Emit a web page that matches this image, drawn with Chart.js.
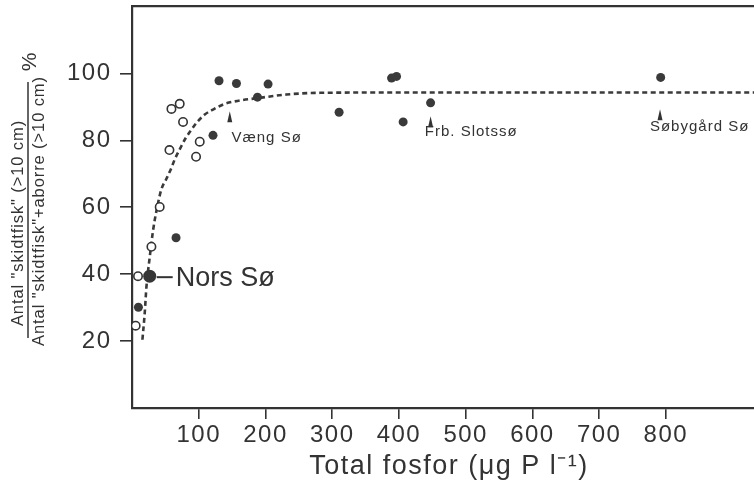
<!DOCTYPE html>
<html>
<head>
<meta charset="utf-8">
<script src="https://cdn.jsdelivr.net/npm/chart.js@4.4.1/dist/chart.umd.min.js"></script>
<style>
  html, body { margin: 0; padding: 0; background: #fff; overflow: hidden; }
  #wrap { width: 754px; height: 485px; overflow: hidden; }
</style>
</head>
<body>
<div id="wrap"><canvas id="fosfor" width="780" height="485"></canvas></div>
<script>
// andel skidtfisk mod total fosfor
const curveX = [15.6, 19.0, 21.6, 26.5, 31.5, 36.6, 44.1, 51.6, 59.1, 64.0, 71.5, 80.5, 89.1, 96.6, 109, 121.4, 139, 161.5, 188, 231.5, 281.4, 400, 600, 950];
const curveY = [20.4, 28.2, 36.1, 45.0, 53.0, 58.9, 65.4, 68.5, 71.8, 74.3, 77.3, 80.7, 83.2, 85.2, 87.7, 89.2, 90.9, 91.9, 92.6, 93.7, 94.2, 94.3, 94.3, 94.3];

const filledX = [130.4, 156.5, 203.9, 188, 310.3, 121.4, 66.0, 9.6, 388.9, 396.4, 406.3, 447.4, 792.2];
const filledY = [97.8, 97.0, 96.8, 92.9, 88.4, 81.5, 50.9, 30.1, 98.6, 99.1, 85.5, 91.2, 98.8];

const openX = [59.1, 71.5, 76.5, 101.5, 96, 56.1, 41.5, 29.1, 9.0, 5.5];
const openY = [89.4, 90.9, 85.5, 79.6, 75.1, 77.1, 60.1, 48.2, 39.4, 24.6];

const norsX = [26.5];
const norsY = [39.4];

const xTicks = [100, 200, 300, 400, 500, 600, 700, 800];
const yTicks = [20, 40, 60, 80, 100];

const lakeNames = ['Væng Sø', 'Frb. Slotssø', 'Søbygård Sø'];
const lakeArrowX = [146.5, 447.4, 791.2];
const lakeArrowY = [88.7, 87.2, 89.3];
const lakeTextX = [149, 438.8, 776.1];
const lakeTextY = [80.8, 82.4, 83.9];

const yTitleTop = 'Antal "skidtfisk" (>10 cm)';
const yTitleBottom = 'Antal "skidtfisk"+aborre (>10 cm)';
const xTitle = 'Total fosfor (μg P l⁻¹)';

const ink = '#333';
const fam = '"Liberation Sans", Arial, Helvetica, sans-serif';

function pts(xs, ys) {
  return xs.map((v, i) => ({ x: v, y: ys[i] }));
}

function noPad(s) {
  s.paddingTop = 0;
  s.paddingBottom = 0;
  s.paddingLeft = 0;
  s.paddingRight = 0;
}

const labelsPlugin = {
  id: 'labels',
  beforeDraw(chart) {
    chart.ctx.letterSpacing = '1.5px';
  },
  afterDraw(chart) {
    const { ctx, scales: { x, y } } = chart;
    ctx.save();
    ctx.fillStyle = ink;
    ctx.strokeStyle = ink;

    // sø-navne med små pile
    ctx.font = '15px ' + fam;
    ctx.letterSpacing = '1px';
    ctx.textAlign = 'left';
    ctx.textBaseline = 'middle';
    lakeNames.forEach((name, i) => {
      const ax = x.getPixelForValue(lakeArrowX[i]);
      const ay = y.getPixelForValue(lakeArrowY[i]);
      ctx.beginPath();
      ctx.moveTo(ax, ay);
      ctx.lineTo(ax + 2.5, ay + 11);
      ctx.lineTo(ax - 2.5, ay + 11);
      ctx.closePath();
      ctx.fill();
      ctx.fillText(name, x.getPixelForValue(lakeTextX[i]), y.getPixelForValue(lakeTextY[i]));
    });

    // Nors Sø
    const nx = x.getPixelForValue(norsX[0]);
    const ny = y.getPixelForValue(norsY[0]);
    ctx.lineWidth = 2;
    ctx.beginPath();
    ctx.moveTo(nx + 7, ny + 1);
    ctx.lineTo(nx + 23, ny + 1);
    ctx.stroke();
    ctx.font = '27px ' + fam;
    ctx.letterSpacing = '0px';
    ctx.fillText('Nors Sø', nx + 26, ny + 2);

    // y-titel som brøk
    ctx.font = '16.5px ' + fam;
    ctx.letterSpacing = '0.9px';
    ctx.textAlign = 'center';
    ctx.save();
    ctx.translate(18, 223);
    ctx.rotate(-Math.PI / 2);
    ctx.fillText(yTitleTop, 0, 0);
    ctx.restore();
    ctx.save();
    ctx.translate(39, 211);
    ctx.rotate(-Math.PI / 2);
    ctx.fillText(yTitleBottom, 0, 0);
    ctx.restore();
    ctx.lineWidth = 1.5;
    ctx.beginPath();
    ctx.moveTo(28, 82);
    ctx.lineTo(28, 338);
    ctx.stroke();
    ctx.font = '21px ' + fam;
    ctx.letterSpacing = '0px';
    ctx.save();
    ctx.translate(30, 62);
    ctx.rotate(-Math.PI / 2);
    ctx.fillText('%', 0, 0);
    ctx.restore();

    ctx.restore();
  }
};

new Chart(document.getElementById('fosfor'), {
  type: 'scatter',
  data: {
    datasets: [
      { data: pts(norsX, norsY), pointRadius: 6.5, backgroundColor: '#363636', borderWidth: 0 },
      { data: pts(filledX, filledY), pointRadius: 4.5, backgroundColor: '#3a3a3a', borderWidth: 0 },
      { data: pts(openX, openY), pointRadius: 4.2, backgroundColor: '#fff', borderColor: ink, borderWidth: 1.6 },
      {
        data: pts(curveX, curveY), showLine: true, pointRadius: 0, borderColor: '#3a3a3a',
        borderWidth: 2.6, borderDash: [5, 3.5], cubicInterpolationMode: 'monotone', fill: false
      }
    ]
  },
  options: {
    responsive: false,
    animation: false,
    layout: { padding: { top: 6, right: 14, left: 0, bottom: 0 } },
    plugins: { legend: { display: false }, tooltip: { enabled: false } },
    scales: {
      x: {
        type: 'linear', position: 'bottom', min: 0, max: 950,
        afterBuildTicks(s) { s.ticks = xTicks.map(v => ({ value: v })); },
        afterFit(s) { s.height = 77; noPad(s); },
        grid: { display: true, drawOnChartArea: false, drawTicks: true, tickLength: 11, color: ink, lineWidth: 1.6 },
        border: { display: true, color: ink, width: 2.2 },
        ticks: { color: ink, padding: 2, font: { family: fam, size: 24 } },
        title: { display: true, text: xTitle, color: ink, padding: { top: 0, bottom: 2 }, font: { family: fam, size: 27 } }
      },
      x2: {
        type: 'linear', position: 'top', min: 0, max: 950,
        afterFit(s) { s.height = 0; noPad(s); },
        ticks: { display: false }, grid: { display: false },
        border: { display: true, color: ink, width: 2.2 }
      },
      y: {
        type: 'linear', min: 0, max: 120,
        afterBuildTicks(s) { s.ticks = yTicks.map(v => ({ value: v })); },
        afterFit(s) { s.width = 132; noPad(s); },
        grid: { display: true, drawOnChartArea: false, drawTicks: true, tickLength: 12, color: ink, lineWidth: 1.6 },
        border: { display: true, color: ink, width: 2.2 },
        ticks: { color: ink, padding: 8.5, font: { family: fam, size: 24 } }
      }
    }
  },
  plugins: [labelsPlugin]
});
</script>
</body>
</html>
